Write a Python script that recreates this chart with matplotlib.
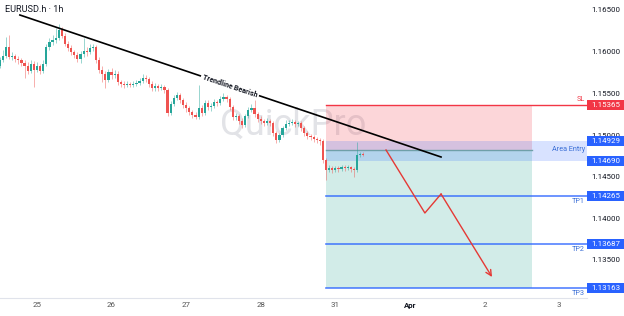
import numpy as np
import matplotlib.pyplot as plt
import matplotlib.transforms as mtransforms
from matplotlib.patches import Rectangle

plt.rcParams['font.family'] = ['Roboto', 'DejaVu Sans']

# =========================
# DATA (hourly candles, index 0 = start of the 25th)
# =========================
BAR_START = -12
OPEN_FIRST = 1.15828
CLOSES = [
    1.15900, 1.15948, 1.16056, 1.15936, 1.15948, 1.15912, 1.15900, 1.15864, 1.15828, 1.15768, 1.15852, 1.15780,
    1.15828, 1.15768, 1.15852, 1.16056, 1.16116, 1.16140, 1.16164, 1.16260, 1.16188, 1.16092, 1.16044, 1.15996,
    1.15960, 1.15912, 1.15972, 1.16008, 1.15996, 1.16044, 1.16056, 1.15900, 1.15780, 1.15732, 1.15660, 1.15756,
    1.15720, 1.15732, 1.15636, 1.15612, 1.15600, 1.15612, 1.15600, 1.15612, 1.15624, 1.15648, 1.15684, 1.15672,
    1.15612, 1.15564, 1.15588, 1.15564, 1.15576, 1.15540, 1.15264, 1.15372, 1.15444, 1.15480, 1.15420, 1.15360,
    1.15324, 1.15276, 1.15240, 1.15216, 1.15324, 1.15264, 1.15384, 1.15336, 1.15348, 1.15396, 1.15384, 1.15432,
    1.15456, 1.15432, 1.15336, 1.15216, 1.15228, 1.15168, 1.15120, 1.15228, 1.15300, 1.15324, 1.15252, 1.15192,
    1.15168, 1.15144, 1.15168, 1.15144, 1.15024, 1.14940, 1.15000, 1.15084, 1.15132, 1.15144, 1.15156, 1.15132,
    1.15144, 1.15084, 1.15024, 1.14988, 1.14976, 1.14952, 1.14940, 1.14928, 1.14700, 1.14580, 1.14604, 1.14580,
    1.14604, 1.14592, 1.14616, 1.14604, 1.14616, 1.14592, 1.14580, 1.14760, 1.14772, 1.14760,
]
HIGHS = [
    1.15936, 1.16020, 1.16176, 1.16200, 1.15996, 1.15972, 1.15948, 1.15924, 1.15900, 1.15876, 1.15900, 1.15888,
    1.15876, 1.15852, 1.15900, 1.16092, 1.16164, 1.16200, 1.16284, 1.16332, 1.16296, 1.16224, 1.16128, 1.16080,
    1.16020, 1.15996, 1.16008, 1.16164, 1.16056, 1.16092, 1.16092, 1.16080, 1.15936, 1.15828, 1.15768, 1.15792,
    1.15804, 1.15780, 1.15768, 1.15660, 1.15648, 1.15648, 1.15636, 1.15648, 1.15660, 1.15684, 1.15732, 1.15720,
    1.15696, 1.15648, 1.15624, 1.15612, 1.15612, 1.15600, 1.15564, 1.15408, 1.15480, 1.15516, 1.15504, 1.15444,
    1.15396, 1.15348, 1.15300, 1.15276, 1.15600, 1.15360, 1.15420, 1.15420, 1.15384, 1.15432, 1.15420, 1.15468,
    1.15504, 1.15480, 1.15456, 1.15360, 1.15264, 1.15252, 1.15204, 1.15252, 1.15336, 1.15372, 1.15480, 1.15276,
    1.15228, 1.15192, 1.15204, 1.15192, 1.15168, 1.15048, 1.15024, 1.15108, 1.15180, 1.15180, 1.15192, 1.15180,
    1.15168, 1.15168, 1.15108, 1.15048, 1.15012, 1.15000, 1.14976, 1.14964, 1.14952, 1.14724, 1.14640, 1.14628,
    1.14628, 1.14628, 1.14640, 1.14640, 1.14640, 1.14628, 1.14616, 1.14916, 1.14796, 1.14796,
]
LOWS = [
    1.15804, 1.15876, 1.15924, 1.15912, 1.15900, 1.15876, 1.15852, 1.15828, 1.15684, 1.15732, 1.15744, 1.15576,
    1.15756, 1.15732, 1.15744, 1.15828, 1.16020, 1.16080, 1.16104, 1.16140, 1.16164, 1.16068, 1.16008, 1.15960,
    1.15924, 1.15876, 1.15864, 1.15936, 1.15948, 1.15972, 1.16008, 1.15864, 1.15744, 1.15636, 1.15564, 1.15636,
    1.15672, 1.15684, 1.15600, 1.15576, 1.15564, 1.15576, 1.15576, 1.15576, 1.15588, 1.15600, 1.15624, 1.15636,
    1.15576, 1.15528, 1.15528, 1.15528, 1.15540, 1.15504, 1.15228, 1.15240, 1.15348, 1.15420, 1.15384, 1.15324,
    1.15276, 1.15240, 1.15204, 1.15192, 1.15192, 1.15228, 1.15240, 1.15300, 1.15288, 1.15324, 1.15348, 1.15360,
    1.15408, 1.15396, 1.15300, 1.15180, 1.15180, 1.15132, 1.15084, 1.15096, 1.15204, 1.15276, 1.15216, 1.15156,
    1.15132, 1.15108, 1.15120, 1.15108, 1.14988, 1.14904, 1.14916, 1.14976, 1.15060, 1.15108, 1.15120, 1.15096,
    1.15108, 1.15048, 1.14988, 1.14952, 1.14940, 1.14916, 1.14904, 1.14880, 1.14664, 1.14460, 1.14556, 1.14544,
    1.14556, 1.14556, 1.14568, 1.14568, 1.14580, 1.14556, 1.14496, 1.14556, 1.14736, 1.14748,
]

DAY_POS = [0, 24, 48, 72, 96, 120, 144, 168]
DAY_LABELS = ["25", "26", "27", "28", "31", "Apr", "2", "3"]
PRICE_TICKS = [1.165, 1.160, 1.155, 1.150, 1.145, 1.140, 1.135]

SL_PRICE = 1.15365
ENTRY_HIGH = 1.14929
ENTRY_LOW = 1.14690
TP_PRICES = [1.14265, 1.13687, 1.13163]
TP_NAMES = ["TP1", "TP2", "TP3"]
POS_ENTRY = 1.14820
POS_X = [93.0, 159.3]

TREND_X = [-5.5, 130.0]
TREND_Y = [1.16440, 1.14736]
PATH_X = [112.3, 124.8, 130.0, 146.4]
PATH_Y = [1.14820, 1.14064, 1.14292, 1.13296]

# =========================
# STYLE
# =========================
UP = "#26a69a"
DOWN = "#ef5350"
BLUE = "#2962ff"
RED = "#f23645"
TXT = "#131722"
XMIN, XMAX = -11.9, 176.96
YMIN, YMAX = 1.13044, 1.16620

fig = plt.figure(figsize=(6.24, 3.16), dpi=100)
ax = fig.add_axes([0, 1 - 298 / 316, 587 / 624, 298 / 316])
ax.set_xlim(XMIN, XMAX)
ax.set_ylim(YMIN, YMAX)

# candles
closes = np.array(CLOSES)
opens = np.r_[OPEN_FIRST, closes[:-1]]
highs = np.array(HIGHS)
lows = np.array(LOWS)
idx = np.arange(BAR_START, BAR_START + len(closes))
cols = np.where(closes >= opens, UP, DOWN)
ax.vlines(idx, lows, highs, colors=cols, linewidth=0.6, alpha=0.55, zorder=3)
body = np.maximum(np.abs(closes - opens), 0.00005)
ax.bar(idx, body, bottom=np.minimum(opens, closes), width=0.7, color=cols, linewidth=0, zorder=4)

# watermark
ax.text(82.4, 1.1512, "QuickPro", fontsize=26, color="#e2e3e7", ha="center", va="center", zorder=1)

# position tool
ax.fill_between(POS_X, POS_ENTRY, SL_PRICE, color=RED, alpha=0.2, linewidth=0, zorder=2)
ax.fill_between(POS_X, TP_PRICES[-1], POS_ENTRY, color="#089981", alpha=0.18, linewidth=0, zorder=2)
ax.plot(POS_X, [POS_ENTRY, POS_ENTRY], color="#6f9fa8", linewidth=1.0, zorder=2.5)

# entry band + level lines (to the price scale)
ax.fill_between([POS_X[0], XMAX], ENTRY_LOW, ENTRY_HIGH, color=BLUE, alpha=0.18, linewidth=0, zorder=2.2)
ax.plot([POS_X[0], XMAX], [SL_PRICE, SL_PRICE], color=RED, linewidth=1.0, zorder=5)
for tp in TP_PRICES:
    ax.plot([POS_X[0], XMAX], [tp, tp], color=BLUE, linewidth=1.2, alpha=0.8, zorder=5)

# trendline
ax.plot(TREND_X, TREND_Y, color="black", linewidth=1.2, zorder=6)
p1 = ax.transData.transform((TREND_X[0], TREND_Y[0]))
p2 = ax.transData.transform((TREND_X[1], TREND_Y[1]))
ang = np.degrees(np.arctan2(p2[1] - p1[1], p2[0] - p1[0]))
tx = 62.1
ty = TREND_Y[0] + (tx - TREND_X[0]) / (TREND_X[1] - TREND_X[0]) * (TREND_Y[1] - TREND_Y[0])
ax.text(tx, ty, "Trendline Bearish", fontsize=5.2, fontweight="bold", color=TXT,
        rotation=ang, rotation_mode="anchor", ha="center", va="center", zorder=7,
        bbox=dict(boxstyle="square,pad=0.25", fc="white", ec="none"))

# projected path
ax.plot(PATH_X[:-1], PATH_Y[:-1], color="#e53935", linewidth=1.0, zorder=6)
ax.annotate("", xy=(PATH_X[-1], PATH_Y[-1]), xytext=(PATH_X[-2], PATH_Y[-2]),
            arrowprops=dict(arrowstyle="->", color="#e53935", lw=1.0, mutation_scale=10,
                            shrinkA=0, shrinkB=0), zorder=6)

# level captions
tr = mtransforms.blended_transform_factory(ax.transAxes, ax.transData)
ax.text(585 / 587, SL_PRICE + 0.0006, "SL", transform=tr, fontsize=5.2, color=RED, ha="right", va="center")
ax.text(585 / 587, POS_ENTRY, "Area Entry", transform=tr, fontsize=5.2, color="#3b6fd6", ha="right", va="center", zorder=8)
for tp, name in zip(TP_PRICES, TP_NAMES):
    ax.text(585 / 587, tp - 0.0006, name, transform=tr, fontsize=5.2, color="#3b6fd6", ha="right", va="center")

# price scale
ax.yaxis.tick_right()
ax.set_yticks(PRICE_TICKS)
ax.set_yticklabels([f"{p:.5f}" for p in PRICE_TICKS])
ax.tick_params(axis="y", length=0, pad=3.2, labelsize=5.7, labelcolor=TXT)

BOX_H = 0.0012
BOX_W = 37 / 587
for price, c in [(SL_PRICE, RED), (ENTRY_HIGH, BLUE), (ENTRY_LOW, BLUE)] + [(tp, BLUE) for tp in TP_PRICES]:
    ax.add_patch(Rectangle((1.0, price - BOX_H / 2), BOX_W, BOX_H, transform=tr,
                           facecolor=c, edgecolor="none", clip_on=False, zorder=10))
    ax.text(1.0 + BOX_W / 2, price, f"{price:.5f}", transform=tr, fontsize=5.7, color="white",
            ha="center", va="center", clip_on=False, zorder=11)

# time scale
ax.set_xticks(DAY_POS)
ax.set_xticklabels(DAY_LABELS)
ax.tick_params(axis="x", length=0, pad=3, labelsize=5.7, labelcolor="#555555")
for lbl in ax.get_xticklabels():
    if lbl.get_text() == "Apr":
        lbl.set_fontweight("bold")
        lbl.set_color(TXT)

for side in ["top", "left", "right"]:
    ax.spines[side].set_visible(False)
ax.spines["bottom"].set_color("#e0e3eb")
ax.spines["bottom"].set_linewidth(0.8)

fig.text(5 / 624, 1 - 10 / 316, "EURUSD.h · 1h", fontsize=6.6, color=TXT, ha="left", va="center")

fig.savefig("out.png", dpi=100)
